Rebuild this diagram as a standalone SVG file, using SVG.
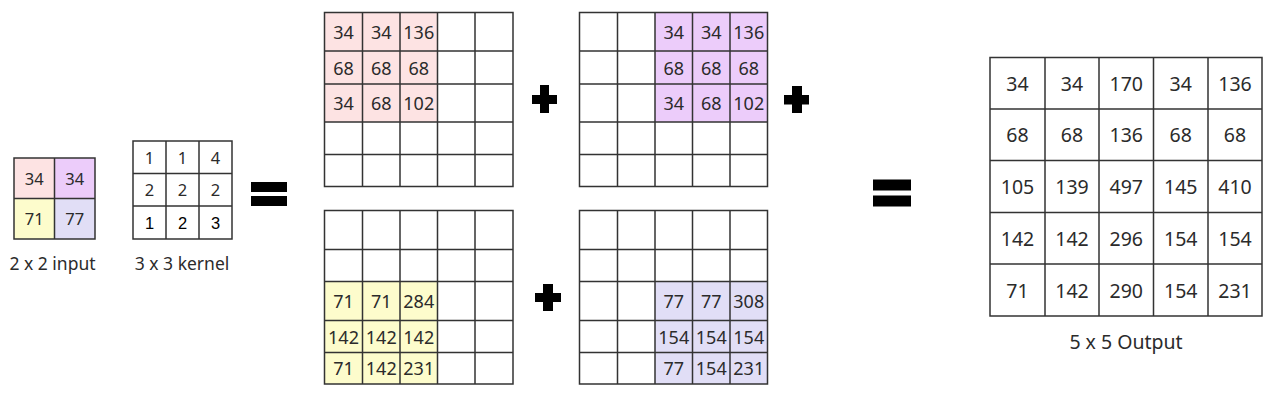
<svg xmlns="http://www.w3.org/2000/svg" width="1287" height="404" viewBox="0 0 1287 404">
<style>
.g{fill:none;stroke:#333;stroke-width:1.5}
.t{font-family:"Noto Sans","DejaVu Sans",sans-serif;fill:#2b2b2b;text-anchor:middle;dominant-baseline:central}
.m{font-size:18px}
.o{font-size:19.5px}
.s{font-size:16.5px}
.lbl{font-family:"Noto Sans","DejaVu Sans",sans-serif;fill:#2b2b2b;text-anchor:middle;font-size:17.5px}
.pink{fill:#fde3e3}
.purp{fill:#ecccfa}
.yel{fill:#fdfccc}
.lav{fill:#e1def6}
.op{fill:#000}
</style>
<rect width="1287" height="404" fill="#fff"/>

<g id="input">
<rect class="pink" x="14" y="158" width="40.5" height="40.5"/>
<rect class="purp" x="54.5" y="158" width="40.5" height="40.5"/>
<rect class="yel" x="14" y="198.5" width="40.5" height="40.5"/>
<rect class="lav" x="54.5" y="198.5" width="40.5" height="40.5"/>
<path class="g" d="M14 158H95V239H14Z M54.5 158V239 M14 198.5H95"/>
<g class="t s">
<text x="34.25" y="178.25">34</text><text x="74.75" y="178.25">34</text>
<text x="34.25" y="218.75">71</text><text x="74.75" y="218.75">77</text>
</g>
<text class="lbl" x="52.5" y="270">2 x 2 input</text>
</g>

<g id="kernel">
<path class="g" d="M133 141H232V239H133Z M166 141V239 M199 141V239 M133 173.5H232 M133 206H232"/>
<g class="t s">
<text x="149.5" y="157.25">1</text><text x="182.5" y="157.25">1</text><text x="215.5" y="157.25">4</text>
<text x="149.5" y="189.75">2</text><text x="182.5" y="189.75">2</text><text x="215.5" y="189.75">2</text>
</g>
<g class="t s" style="font-family:'Liberation Sans',Arial,sans-serif;fill:#000">
<text x="149.5" y="222.5">1</text><text x="182.5" y="222.5">2</text><text x="215.5" y="222.5">3</text>
</g>
<text class="lbl" x="182" y="270">3 x 3 kernel</text>
</g>

<g id="partial-top-left">
<rect class="pink" x="324.5" y="12.5" width="113" height="109.5"/>
<path class="g" d="M324.5 12.5H513V186.5H324.5Z M362.5 12.5V186.5 M400 12.5V186.5 M437.5 12.5V186.5 M475 12.5V186.5 M324.5 51H513 M324.5 84H513 M324.5 122H513 M324.5 154.5H513"/>
<g class="t m">
<text x="343.5" y="31.75">34</text><text x="381.25" y="31.75">34</text><text x="418.75" y="31.75">136</text>
<text x="343.5" y="67.5">68</text><text x="381.25" y="67.5">68</text><text x="418.75" y="67.5">68</text>
<text x="343.5" y="103">34</text><text x="381.25" y="103">68</text><text x="418.75" y="103">102</text>
</g>
</g>

<g id="partial-top-right">
<rect class="purp" x="655" y="12.5" width="112.5" height="109.5"/>
<path class="g" d="M579.5 12.5H767.5V186.5H579.5Z M617.5 12.5V186.5 M655 12.5V186.5 M692.5 12.5V186.5 M730 12.5V186.5 M579.5 51H767.5 M579.5 84H767.5 M579.5 122H767.5 M579.5 154.5H767.5"/>
<g class="t m">
<text x="673.75" y="31.75">34</text><text x="711.25" y="31.75">34</text><text x="748.75" y="31.75">136</text>
<text x="673.75" y="67.5">68</text><text x="711.25" y="67.5">68</text><text x="748.75" y="67.5">68</text>
<text x="673.75" y="103">34</text><text x="711.25" y="103">68</text><text x="748.75" y="103">102</text>
</g>
</g>

<g id="partial-bottom-left">
<rect class="yel" x="324.5" y="281.5" width="113" height="102.5"/>
<path class="g" d="M324.5 210.5H513V384H324.5Z M362.5 210.5V384 M400 210.5V384 M437.5 210.5V384 M475 210.5V384 M324.5 249.5H513 M324.5 281.5H513 M324.5 320.5H513 M324.5 352.5H513"/>
<g class="t m">
<text x="343.5" y="301">71</text><text x="381.25" y="301">71</text><text x="418.75" y="301">284</text>
<text x="343.5" y="336.5">142</text><text x="381.25" y="336.5">142</text><text x="418.75" y="336.5">142</text>
<text x="343.5" y="368.25">71</text><text x="381.25" y="368.25">142</text><text x="418.75" y="368.25">231</text>
</g>
</g>

<g id="partial-bottom-right">
<rect class="lav" x="655" y="281.5" width="112.5" height="102.5"/>
<path class="g" d="M579.5 210.5H767.5V384H579.5Z M617.5 210.5V384 M655 210.5V384 M692.5 210.5V384 M730 210.5V384 M579.5 249.5H767.5 M579.5 281.5H767.5 M579.5 320.5H767.5 M579.5 352.5H767.5"/>
<g class="t m">
<text x="673.75" y="301">77</text><text x="711.25" y="301">77</text><text x="748.75" y="301">308</text>
<text x="673.75" y="336.5">154</text><text x="711.25" y="336.5">154</text><text x="748.75" y="336.5">154</text>
<text x="673.75" y="368.25">77</text><text x="711.25" y="368.25">154</text><text x="748.75" y="368.25">231</text>
</g>
</g>

<g id="output">
<path class="g" d="M990 57.5H1262V316H990Z M1045 57.5V316 M1099 57.5V316 M1153.5 57.5V316 M1208 57.5V316 M990 109H1262 M990 160.5H1262 M990 212.5H1262 M990 264H1262"/>
<g class="t o">
<text x="1017.5" y="83.25">34</text><text x="1072" y="83.25">34</text><text x="1126.25" y="83.25">170</text><text x="1180.75" y="83.25">34</text><text x="1235" y="83.25">136</text>
<text x="1017.5" y="134.75">68</text><text x="1072" y="134.75">68</text><text x="1126.25" y="134.75">136</text><text x="1180.75" y="134.75">68</text><text x="1235" y="134.75">68</text>
<text x="1017.5" y="186.5">105</text><text x="1072" y="186.5">139</text><text x="1126.25" y="186.5">497</text><text x="1180.75" y="186.5">145</text><text x="1235" y="186.5">410</text>
<text x="1017.5" y="238.25">142</text><text x="1072" y="238.25">142</text><text x="1126.25" y="238.25">296</text><text x="1180.75" y="238.25">154</text><text x="1235" y="238.25">154</text>
<text x="1017.5" y="290">71</text><text x="1072" y="290">142</text><text x="1126.25" y="290">290</text><text x="1180.75" y="290">154</text><text x="1235" y="290">231</text>
</g>
<text class="lbl" x="1126" y="349" style="font-size:19.5px">5 x 5 Output</text>
</g>

<g id="operators">
<rect class="op" x="251" y="182" width="36" height="10"/>
<rect class="op" x="251" y="196" width="36" height="10"/>
<path class="op" d="M540 85H549V95H557V104H549V113H540V104H532V95H540Z"/>
<path class="op" d="M792 86H802V95H809V104.5H802V113H792V104.5H784V95H792Z"/>
<path class="op" d="M543 284H553V293H561V302H553V311H543V302H535V293H543Z"/>
<rect class="op" x="873" y="179.5" width="38" height="11"/>
<rect class="op" x="873" y="195.5" width="38" height="11"/>
</g>
</svg>
